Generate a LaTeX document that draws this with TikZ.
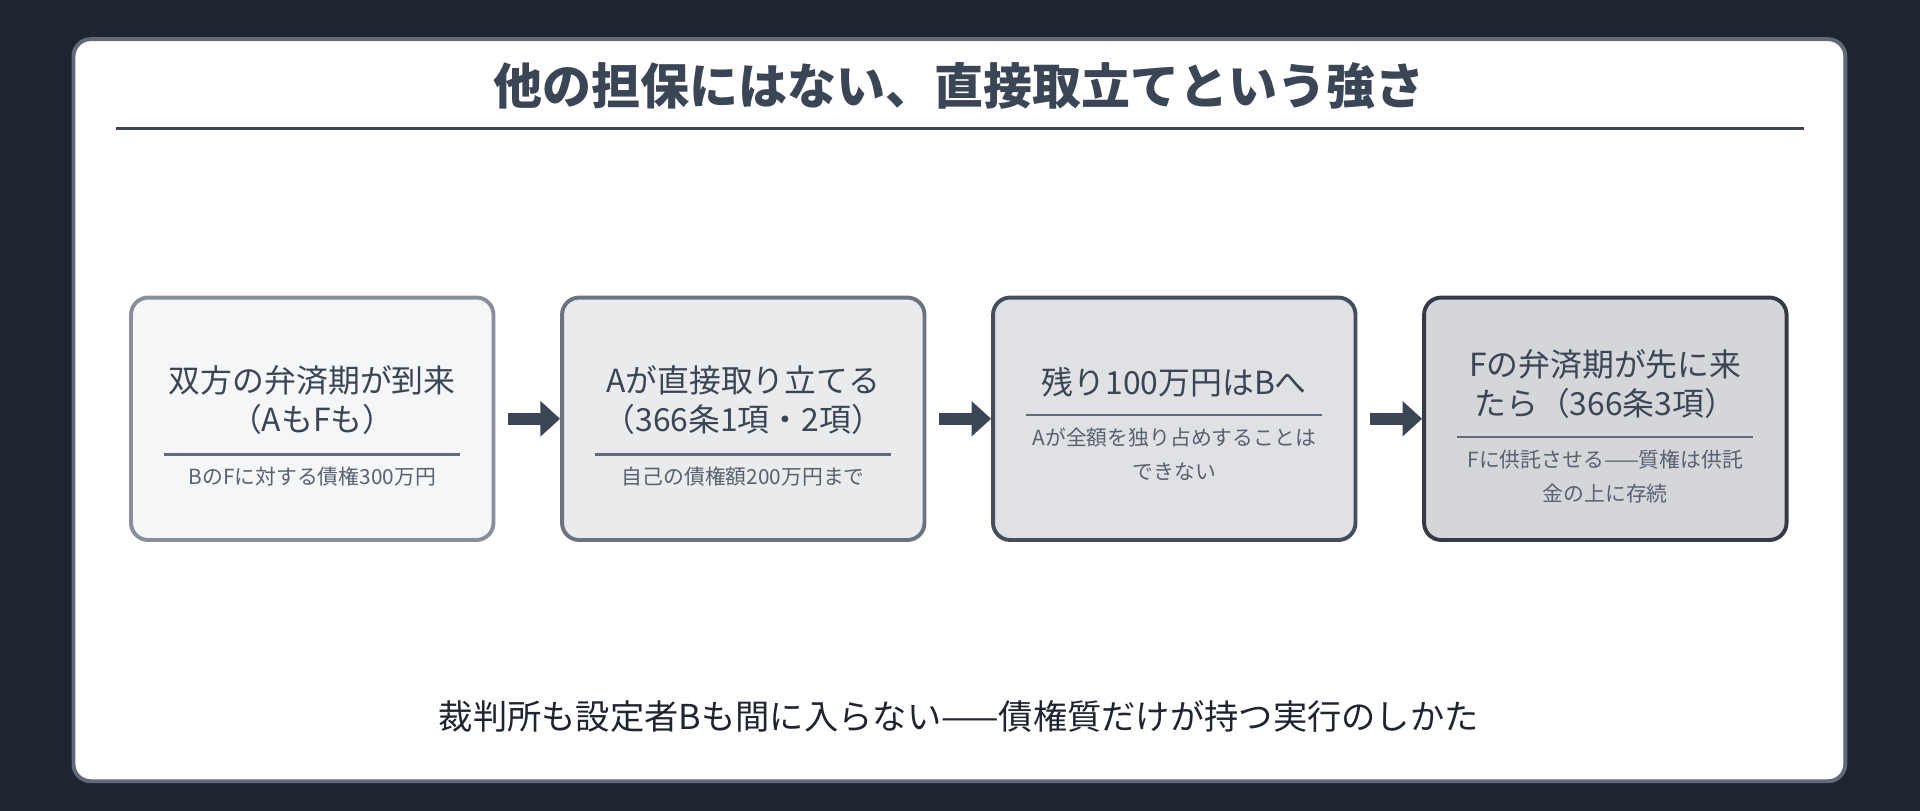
\documentclass[tikz,border=0pt]{standalone}
\usepackage{fontspec}
\newfontfamily\jp{Noto Sans CJK JP}
\usetikzlibrary{positioning,arrows.meta}
\definecolor{bgdark}{HTML}{1E2430}
\definecolor{ink}{HTML}{3A4556}
\tikzset{
  step/.style={draw=#1,line width=1.6pt,rounded corners=7pt,minimum width=148pt,minimum height=99pt},
  head/.style={text=ink,font=\jp\fontsize{13}{16}\selectfont,align=center,text width=140pt},
  sub/.style={text=ink!85,font=\jp\fontsize{8.5}{14}\selectfont,align=center,text width=140pt},
  flow/.style={-{Triangle[length=8pt,width=14pt]},line width=5pt,draw=ink}
}
\begin{document}
\begin{tikzpicture}[x=0.5pt,y=-0.5pt]
  \fill[bgdark] (0,0) rectangle (1568,662);
  \useasboundingbox (0,0) rectangle (1568,662);
  \draw[fill=white,draw=ink!80,line width=1.6pt,rounded corners=7pt] (60,32) rectangle (1507,638);

  \node (title) [text=ink,font=\jp\bfseries\fontsize{20}{24}\selectfont] at (783,70) {他の担保にはない、直接取立てという強さ};
  \draw[ink,line width=1pt] (95,105) -- (1473,105);

  % steps
  \node (s1) [step=ink!60,fill=ink!5]  at (255,342) {};
  \node (s2) [step=ink!75,fill=ink!11] at (607,342) {};
  \node (s3) [step=ink!95,fill=ink!16] at (959,342) {};
  \node (s4) [step=bgdark!90,fill=ink!22] at (1311,342) {};

  \node (h1) [head,anchor=south] at (255,362) {双方の弁済期が到来\\（AもFも）};
  \node (h2) [head,anchor=south] at (607,362) {Aが直接取り立てる\\（366条1項・2項）};
  \node (h3) [head,anchor=south] at (959,331) {残り100万円はBへ};
  \node (h4) [head,anchor=south] at (1311,349) {Fの弁済期が先に来\\たら（366条3項）};

  \draw[ink!80,line width=1pt] (134,371) -- (376,371);
  \draw[ink!80,line width=1pt] (486,371) -- (728,371);
  \draw[ink!80,line width=1pt] (838,339) -- (1080,339);
  \draw[ink!80,line width=1pt] (1190,357) -- (1432,357);

  \node (d1) [sub,anchor=north] at (255,374) {BのFに対する債権300万円};
  \node (d2) [sub,anchor=north] at (607,374) {自己の債権額200万円まで};
  \node (d3) [sub,anchor=north] at (959,342) {Aが全額を独り占めすることは\\できない};
  \node (d4) [sub,anchor=north] at (1311,360) {Fに供託させる——質権は供託\\金の上に存続};

  \foreach \a/\b in {s1/s2,s2/s3,s3/s4}
    \draw[flow] ([xshift=5pt]\a.east) -- (\b.west);

  \node (note) [text=bgdark,font=\jp\fontsize{14}{18}\selectfont] at (783,585) {裁判所も設定者Bも間に入らない——債権質だけが持つ実行のしかた};
\end{tikzpicture}
\end{document}
